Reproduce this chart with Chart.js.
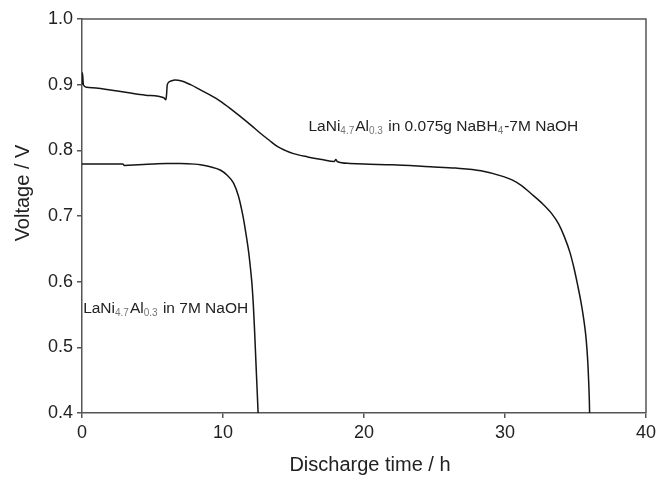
<!DOCTYPE html>
<html>
<head>
<meta charset="utf-8">
<script src="https://cdn.jsdelivr.net/npm/chart.js@4"></script>
<style>
  html, body { margin: 0; padding: 0; background: #fff; }
  #wrap { width: 656px; height: 477px; }
</style>
</head>
<body>
<div id="wrap"><canvas id="chart"></canvas></div>
<script>
// NaBH4 + 7M NaOH discharge curve
const timeBH = [0, 0.03, 0.1, 0.33, 1, 2, 3.2, 4.5, 5.8, 5.95, 6.0, 6.05, 6.25, 6.6, 7.0, 7.7, 8.4, 9.1, 9.8, 10.5, 11.2, 12.0, 12.65, 13.3, 13.85, 14.4, 15.0, 16.0, 17.0, 17.9, 18.0, 18.1, 19.0, 20.0, 22.0, 24.7, 26.5, 28.3, 29.9, 30.5, 31.2, 31.8, 32.6, 33.3, 33.8, 34.2, 34.6, 34.9, 35.15, 35.38, 35.57, 35.72, 35.82, 35.89, 35.94, 35.98, 36.0];
const voltBH = [0.900, 0.918, 0.900, 0.896, 0.895, 0.892, 0.888, 0.884, 0.880, 0.877, 0.886, 0.900, 0.905, 0.907, 0.906, 0.900, 0.892, 0.884, 0.875, 0.864, 0.852, 0.838, 0.826, 0.815, 0.806, 0.800, 0.795, 0.790, 0.786, 0.783, 0.786, 0.783, 0.780, 0.779, 0.778, 0.775, 0.773, 0.769, 0.760, 0.755, 0.746, 0.735, 0.720, 0.704, 0.688, 0.669, 0.645, 0.620, 0.595, 0.570, 0.545, 0.520, 0.495, 0.470, 0.445, 0.420, 0.400];

// 7M NaOH only
const timeNaOH = [0, 2.9, 3.0, 4.0, 5.0, 6.0, 7.0, 8.0, 8.4, 9.1, 9.8, 10.3, 10.75, 11.1, 11.3, 11.46, 11.65, 11.82, 11.95, 12.06, 12.15, 12.23, 12.30, 12.37, 12.43, 12.49];
const voltNaOH = [0.779, 0.779, 0.777, 0.778, 0.779, 0.780, 0.780, 0.779, 0.778, 0.775, 0.770, 0.762, 0.750, 0.730, 0.712, 0.695, 0.670, 0.645, 0.620, 0.595, 0.565, 0.530, 0.495, 0.460, 0.430, 0.400];

const xTicks = [0, 10, 20, 30, 40];
const yTicks = [0.4, 0.5, 0.6, 0.7, 0.8, 0.9, 1.0];

// curve labels: [text, isSubscript]
const labelBH = [['LaNi', 0], ['4.7', 1], ['Al', 0], ['0.3', 1], [' in 0.075g NaBH', 0], ['4', 1], ['-7M NaOH', 0]];
const labelNaOH = [['LaNi', 0], ['4.7', 1], ['Al', 0], ['0.3', 1], [' in 7M NaOH', 0]];
const labelAt = [[16.06, 0.830], [0.08, 0.553]];

const FONT = 'Arial, "Liberation Sans", sans-serif';
const toPoints = (xs, ys) => xs.map((x, i) => ({ x: x, y: ys[i] }));

const framePlugin = {
    id: 'frame',
    afterDraw(chart) {
        const { ctx, chartArea: a, scales } = chart;
        ctx.save();
        // top and right edges of the box
        ctx.strokeStyle = '#555';
        ctx.lineWidth = 1.5;
        ctx.beginPath();
        ctx.moveTo(a.left, a.top);
        ctx.lineTo(a.right, a.top);
        ctx.lineTo(a.right, a.bottom);
        ctx.stroke();

        // curve labels with subscripts
        [labelBH, labelNaOH].forEach((parts, k) => {
            let x = scales.x.getPixelForValue(labelAt[k][0]);
            const y = scales.y.getPixelForValue(labelAt[k][1]);
            ctx.textBaseline = 'alphabetic';
            parts.forEach(([txt, sub]) => {
                ctx.font = (sub ? '10px ' : '15.5px ') + FONT;
                ctx.fillStyle = sub ? '#777' : '#222';
                ctx.fillText(txt, x, sub ? y + 3.5 : y);
                x += ctx.measureText(txt).width + (sub ? 1 : 0);
            });
        });

        // axis titles
        ctx.fillStyle = '#222';
        ctx.font = '20px ' + FONT;
        ctx.textAlign = 'center';
        ctx.textBaseline = 'middle';
        ctx.fillText('Discharge time / h', (a.left + a.right) / 2 + 6, 465);
        ctx.translate(23, 193);
        ctx.rotate(-Math.PI / 2);
        ctx.fillText('Voltage / V', 0, 0);
        ctx.restore();
    }
};

new Chart(document.getElementById('chart'), {
    type: 'line',
    data: {
        datasets: [
            { data: toPoints(timeBH, voltBH), borderColor: '#151515', borderWidth: 1.5, pointRadius: 0, cubicInterpolationMode: 'monotone' },
            { data: toPoints(timeNaOH, voltNaOH), borderColor: '#151515', borderWidth: 1.5, pointRadius: 0, cubicInterpolationMode: 'monotone' }
        ]
    },
    options: {
        responsive: true,
        maintainAspectRatio: false,
        animation: false,
        layout: { padding: { left: 0, top: 19, right: 0, bottom: 0 } },
        plugins: { legend: { display: false }, tooltip: { enabled: false } },
        scales: {
            x: {
                type: 'linear',
                min: 0,
                max: 40,
                afterBuildTicks: s => { s.ticks = xTicks.map(v => ({ value: v })); },
                afterFit: s => { s.height = 64; s.paddingRight = 10; },
                grid: { drawOnChartArea: false, tickLength: 5, color: '#555', lineWidth: 1.5 },
                border: { color: '#555', width: 1.5 },
                ticks: { color: '#222', padding: 4, maxRotation: 0, font: { size: 18, family: FONT } }
            },
            y: {
                min: 0.4,
                max: 1.0,
                afterBuildTicks: s => { s.ticks = yTicks.map(v => ({ value: v })); },
                afterFit: s => { s.width = 82; },
                grid: { drawOnChartArea: false, tickLength: 5, color: '#555', lineWidth: 1.5 },
                border: { color: '#555', width: 1.5 },
                ticks: { color: '#222', padding: 4, font: { size: 18, family: FONT }, callback: v => v.toFixed(1) }
            }
        }
    },
    plugins: [framePlugin]
});
</script>
</body>
</html>
